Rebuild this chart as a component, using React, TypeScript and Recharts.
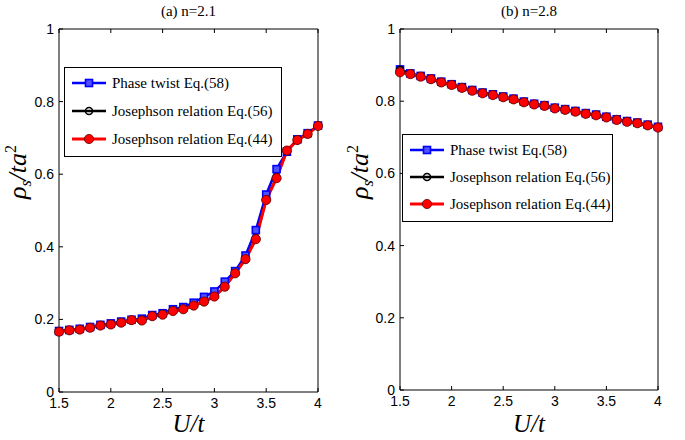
import React from 'react';
import { LineChart, Line, XAxis, YAxis } from 'recharts';

// U/t values (shared by both panels)
const uValues = [1.5, 1.6, 1.7, 1.8, 1.9, 2.0, 2.1, 2.2, 2.3, 2.4, 2.5, 2.6, 2.7, 2.8, 2.9, 3.0, 3.1, 3.2, 3.3, 3.4, 3.5, 3.6, 3.7, 3.8, 3.9, 4.0];

// (a) n=2.1
const aPhaseTwist58 = [0.168, 0.171, 0.174, 0.179, 0.185, 0.189, 0.194, 0.199, 0.202, 0.212, 0.217, 0.228, 0.234, 0.246, 0.262, 0.277, 0.304, 0.333, 0.376, 0.446, 0.544, 0.614, 0.662, 0.696, 0.713, 0.734];
const aJosephson56 = [0.166, 0.170, 0.172, 0.177, 0.183, 0.186, 0.191, 0.198, 0.197, 0.209, 0.213, 0.223, 0.228, 0.238, 0.249, 0.263, 0.290, 0.327, 0.366, 0.423, 0.531, 0.591, 0.665, 0.694, 0.711, 0.733];
const aJosephson44 = [0.166, 0.170, 0.172, 0.177, 0.183, 0.186, 0.191, 0.198, 0.197, 0.209, 0.213, 0.223, 0.228, 0.238, 0.249, 0.263, 0.290, 0.327, 0.366, 0.421, 0.529, 0.589, 0.665, 0.694, 0.711, 0.733];

// (b) n=2.8
const bPhaseTwist58 = [0.888, 0.877, 0.870, 0.863, 0.854, 0.847, 0.839, 0.831, 0.824, 0.819, 0.813, 0.807, 0.799, 0.793, 0.789, 0.782, 0.778, 0.773, 0.767, 0.763, 0.757, 0.750, 0.745, 0.741, 0.735, 0.729];
const bJosephson56 = [0.887, 0.876, 0.868, 0.861, 0.852, 0.845, 0.837, 0.829, 0.822, 0.817, 0.811, 0.805, 0.797, 0.791, 0.787, 0.780, 0.776, 0.771, 0.765, 0.761, 0.755, 0.748, 0.743, 0.739, 0.733, 0.727];
const bJosephson44 = [0.880, 0.875, 0.868, 0.861, 0.852, 0.845, 0.837, 0.829, 0.822, 0.817, 0.811, 0.805, 0.797, 0.791, 0.787, 0.780, 0.776, 0.771, 0.765, 0.761, 0.755, 0.748, 0.743, 0.739, 0.733, 0.727];

const xTicks = [1.5, 2, 2.5, 3, 3.5, 4];
const yTicks = [0, 0.2, 0.4, 0.6, 0.8, 1];
const legendNames = ['Phase twist Eq.(58)', 'Josephson relation Eq.(56)', 'Josephson relation Eq.(44)'];

const serif = '"Liberation Serif", "Times New Roman", serif';
const sans = '"Liberation Sans", Arial, sans-serif';

const tickStyle = { fontFamily: sans, fontSize: 14, fill: '#000' };

const SquareDot = (props: any) => {
  const { cx, cy, index } = props;
  if (cx == null || cy == null) return <g key={`sq${index}`} />;
  return (
    <rect key={`sq${index}`} x={cx - 3.5} y={cy - 3.5} width={7} height={7}
      fill="#5050ff" stroke="#0000ff" strokeWidth={1.6} />
  );
};

const emptyTick = () => <g />;

function Panel({ title, p58, j56, j44, width, marginRight, yAxisWidth, xAxisHeight, labelX }: any) {
  const rows = uValues.map((u, i) => ({ u, p58: p58[i], j56: j56[i], j44: j44[i] }));
  const plotLeft = yAxisWidth;
  const plotRight = width - marginRight - 1;
  const cx = (plotLeft + plotRight) / 2;
  return (
    <LineChart width={width} height={440} data={rows}
      margin={{ top: 28, right: marginRight, bottom: 0, left: 0 }}>
      <XAxis dataKey="u" type="number" domain={[1.5, 4]} ticks={xTicks}
        height={xAxisHeight} tickSize={-4} tickMargin={10} tick={tickStyle}
        axisLine={{ stroke: '#000' }} tickLine={{ stroke: '#000' }} />
      <XAxis xAxisId="top" orientation="top" dataKey="u" type="number" domain={[1.5, 4]}
        ticks={xTicks} height={1} tickSize={-4} tick={emptyTick}
        axisLine={{ stroke: '#000' }} tickLine={{ stroke: '#000' }} />
      <YAxis type="number" domain={[0, 1]} ticks={yTicks} width={yAxisWidth}
        tickSize={-4} tickMargin={9} tick={tickStyle}
        axisLine={{ stroke: '#000' }} tickLine={{ stroke: '#000' }} />
      <YAxis yAxisId="right" orientation="right" type="number" domain={[0, 1]} ticks={yTicks}
        width={1} tickSize={-4} tick={emptyTick}
        axisLine={{ stroke: '#000' }} tickLine={{ stroke: '#000' }} />
      <Line dataKey="p58" stroke="#0000ff" strokeWidth={2.5} dot={SquareDot} isAnimationActive={false} />
      <Line dataKey="j56" stroke="#000" strokeWidth={2.5}
        dot={{ r: 3.5, fill: 'none', stroke: '#000', strokeWidth: 1.6 }} isAnimationActive={false} />
      <Line dataKey="j44" stroke="#ff0000" strokeWidth={3}
        dot={{ r: 4.6, fill: '#ff0000', stroke: '#600000', strokeWidth: 0.8 }} isAnimationActive={false} />
      <text x={cx} y={16} textAnchor="middle" fontFamily={serif} fontSize={15} fill="#000">{title}</text>
      <text x={cx} y={432} textAnchor="middle" fontFamily={serif} fontSize={25} fontStyle="italic" fill="#000">U/t</text>
      <text x={labelX} y={172} transform={`rotate(-90, ${labelX}, 172)`} textAnchor="middle"
        fontFamily={serif} fontSize={26} fontStyle="italic" fill="#000">
        ρ<tspan fontSize={16} dy={5}>s</tspan><tspan dy={-5}>/ta</tspan><tspan fontSize={16} fontStyle="normal" dy={-10}>2</tspan>
      </text>
    </LineChart>
  );
}

function LegendBox({ left, top, width, height, gap }: any) {
  const markers = [
    <rect key="m0" x={13.5} y={-3.5} width={7} height={7} fill="#5050ff" stroke="#0000ff" strokeWidth={1.6} />,
    <circle key="m1" cx={17} cy={0} r={3.5} fill="none" stroke="#000" strokeWidth={1.6} />,
    <circle key="m2" cx={17} cy={0} r={4.6} fill="#ff0000" stroke="#600000" strokeWidth={0.8} />,
  ];
  const colors = ['#0000ff', '#000', '#ff0000'];
  return (
    <div style={{ position: 'absolute', left, top, width, height, background: '#fff',
      border: '1px solid #000', boxSizing: 'border-box' }}>
      {legendNames.map((name, i) => (
        <div key={name} style={{ position: 'absolute', left: 7, top: 4 + i * gap, height: 22,
          display: 'flex', alignItems: 'center', whiteSpace: 'nowrap' }}>
          <svg width={34} height={14} viewBox="0 -7 34 14" style={{ marginRight: 6 }}>
            <line x1={0} y1={0} x2={34} y2={0} stroke={colors[i]} strokeWidth={i === 2 ? 3 : 2.5} />
            {markers[i]}
          </svg>
          <span style={{ fontFamily: serif, fontSize: 15, color: '#000' }}>{name}</span>
        </div>
      ))}
    </div>
  );
}

export default function App() {
  return (
    <div style={{ position: 'absolute', left: 0, top: 0, width: 685, height: 440, background: '#fff' }}>
      <div style={{ position: 'absolute', left: 0, top: 0 }}>
        <Panel title="(a) n=2.1" p58={aPhaseTwist58} j56={aJosephson56} j44={aJosephson44}
          width={340} marginRight={21} yAxisWidth={59} xAxisHeight={48} labelX={26} />
      </div>
      <div style={{ position: 'absolute', left: 340, top: 0 }}>
        <Panel title="(b) n=2.8" p58={bPhaseTwist58} j56={bJosephson56} j44={bJosephson44}
          width={345} marginRight={26} yAxisWidth={60} xAxisHeight={50} labelX={28} />
      </div>
      <LegendBox left={64} top={67} width={218} height={90} gap={28} />
      <LegendBox left={402} top={134} width={211} height={88} gap={27} />
    </div>
  );
}
